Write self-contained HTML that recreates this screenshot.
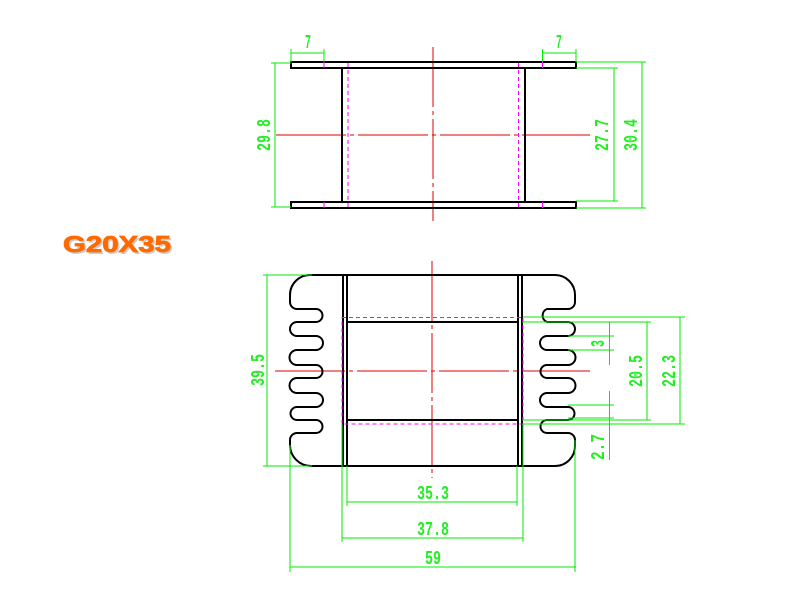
<!DOCTYPE html>
<html><head><meta charset="utf-8"><style>
html,body{margin:0;padding:0;background:#fff;width:800px;height:600px;overflow:hidden}
svg{display:block}
.k{stroke:#000;stroke-width:2;fill:none}
.g{stroke:#00ee00;stroke-width:1;fill:none}
.r{stroke:#e00000;stroke-width:1;fill:none}
.m{stroke:#ff00ff;stroke-width:1;fill:none;stroke-dasharray:4 3}
.t{font-family:"Liberation Mono",monospace;font-size:19px;font-weight:bold;fill:#22ee22}
</style></head><body>
<svg width="800" height="600" viewBox="0 0 800 600" xmlns="http://www.w3.org/2000/svg">
<!-- TOP VIEW -->
<line class="r" x1="433" y1="47" x2="433" y2="221" stroke-dasharray="60 4 4 4"/>
<line class="r" x1="276" y1="135" x2="590" y2="135" stroke-dasharray="70 4 4 4"/>
<rect class="k" x="291" y="62" width="285" height="6"/>
<rect class="k" x="291" y="202" width="285" height="6"/>
<line class="k" x1="342" y1="68" x2="342" y2="202"/>
<line class="k" x1="525" y1="68" x2="525" y2="202"/>
<line class="m" x1="348" y1="63" x2="348" y2="207"/>
<line class="m" x1="518.5" y1="63" x2="518.5" y2="207"/>
<line x1="324" y1="62" x2="324" y2="68" stroke="#ff00ff"/>
<line x1="542.5" y1="62" x2="542.5" y2="68" stroke="#ff00ff"/>
<line x1="324" y1="202" x2="324" y2="208" stroke="#ff00ff"/>
<line x1="542.5" y1="202" x2="542.5" y2="208" stroke="#ff00ff"/>
<!-- dims top -->
<g class="g">
<line x1="291" y1="49" x2="291" y2="62"/><line x1="324" y1="49" x2="324" y2="62"/><line x1="291" y1="53" x2="324" y2="53"/>
<line x1="542.5" y1="49" x2="542.5" y2="62"/><line x1="576" y1="49" x2="576" y2="62"/><line x1="542.5" y1="53" x2="576" y2="53"/>
<line x1="271" y1="63" x2="291" y2="63"/><line x1="271" y1="207" x2="291" y2="207"/><line x1="275" y1="63" x2="275" y2="207"/>
<line x1="576" y1="68" x2="618" y2="68"/><line x1="576" y1="201" x2="618" y2="201"/><line x1="614" y1="68" x2="614" y2="201"/>
<line x1="576" y1="62" x2="646" y2="62"/><line x1="576" y1="208" x2="646" y2="208"/><line x1="642" y1="62" x2="642" y2="208"/>
</g>
<text class="t" x="305" y="48" textLength="6" lengthAdjust="spacingAndGlyphs">7</text>
<text class="t" x="556" y="48" textLength="6" lengthAdjust="spacingAndGlyphs">7</text>
<text class="t" transform="translate(270,151) rotate(-90)" textLength="32" lengthAdjust="spacingAndGlyphs">29.8</text>
<text class="t" transform="translate(608,151) rotate(-90)" textLength="32" lengthAdjust="spacingAndGlyphs">27.7</text>
<text class="t" transform="translate(637,151) rotate(-90)" textLength="32" lengthAdjust="spacingAndGlyphs">30.4</text>
<!-- TITLE -->
<text x="65" y="254" font-family="Liberation Sans,sans-serif" font-weight="bold" font-size="23" fill="#999" opacity="0.5" textLength="108" lengthAdjust="spacingAndGlyphs">G20X35</text>
<text x="63" y="252" font-family="Liberation Sans,sans-serif" font-weight="bold" font-size="23" fill="#ff6a00" stroke="#ff6a00" stroke-width="0.8" textLength="108" lengthAdjust="spacingAndGlyphs">G20X35</text>
<!-- BOTTOM VIEW -->
<line class="r" x1="432" y1="261" x2="432" y2="478" stroke-dasharray="60 4 4 4"/>
<line class="r" x1="275" y1="371" x2="590" y2="371" stroke-dasharray="70 4 4 4"/>
<path class="k" d="M311 275 H555 A20 20 0 0 1 575 295 V302 A7 7 0 0 1 568 309 H547 A7 7 0 0 0 547 322 H568 A7 7 0 0 1 568 336 H547 A7 7 0 0 0 547 350 H568 A7.5 7.5 0 0 1 568 365 H547 A6.5 6.5 0 0 0 547 378 H568 A7.5 7.5 0 0 1 568 393 H547 A7 7 0 0 0 547 407 H568 A6.5 6.5 0 0 1 568 420 H547 A6.5 6.5 0 0 0 547 433 H568 A7 7 0 0 1 575 440 V445 A20 20 0 0 1 555 466 H311 A21 21 0 0 1 290 445 V440 A7 7 0 0 1 297 433 H316 A6.5 6.5 0 0 0 316 420 H297 A6.5 6.5 0 0 1 297 407 H316 A7 7 0 0 0 316 393 H297 A7.5 7.5 0 0 1 297 378 H316 A6.5 6.5 0 0 0 316 365 H297 A7.5 7.5 0 0 1 297 350 H316 A7 7 0 0 0 316 336 H297 A7 7 0 0 1 297 322 H316 A6.5 6.5 0 0 0 316 309 H297 A7 7 0 0 1 290 302 V295 A20 20 0 0 1 311 275 Z"/>
<line class="k" x1="343" y1="275" x2="343" y2="466"/>
<line class="k" x1="347" y1="275" x2="347" y2="466"/>
<line class="k" x1="518" y1="275" x2="518" y2="466"/>
<line class="k" x1="522" y1="275" x2="522" y2="466"/>
<line class="k" x1="347" y1="322" x2="518" y2="322"/>
<line class="k" x1="347" y1="420" x2="518" y2="420"/>
<rect class="m" x="342" y="317.5" width="181" height="106.5"/>
<!-- dims bottom -->
<g class="g">
<line x1="263" y1="275" x2="312" y2="275"/><line x1="263" y1="466" x2="312" y2="466"/><line x1="267" y1="275" x2="267" y2="466"/>
<line x1="568" y1="336" x2="614" y2="336"/><line x1="568" y1="350" x2="614" y2="350"/>
<line x1="568" y1="405" x2="614" y2="405"/><line x1="568" y1="418" x2="614" y2="418"/>
<line x1="609.5" y1="322" x2="609.5" y2="365"/><line x1="609.5" y1="391" x2="609.5" y2="460"/>
<line x1="522" y1="322" x2="651" y2="322"/><line x1="522" y1="420" x2="651" y2="420"/><line x1="647" y1="322" x2="647" y2="420"/>
<line x1="523" y1="317" x2="685" y2="317"/><line x1="523" y1="424" x2="685" y2="424"/><line x1="680" y1="317" x2="680" y2="424"/>
<line x1="575" y1="440" x2="575" y2="572"/><line x1="290" y1="445" x2="290" y2="572"/>
<line x1="342" y1="424" x2="342" y2="542"/><line x1="523" y1="424" x2="523" y2="542"/>
<line x1="347" y1="466" x2="347" y2="506"/><line x1="517" y1="466" x2="517" y2="506"/>
<line x1="347" y1="502" x2="517" y2="502"/>
<line x1="342" y1="538" x2="523" y2="538"/>
<line x1="290" y1="567" x2="576" y2="567"/>
</g>
<text class="t" transform="translate(264,386) rotate(-90)" textLength="32" lengthAdjust="spacingAndGlyphs">39.5</text>
<text class="t" transform="translate(604,347) rotate(-90)" textLength="7" lengthAdjust="spacingAndGlyphs">3</text>
<text class="t" transform="translate(642,387) rotate(-90)" textLength="32" lengthAdjust="spacingAndGlyphs">20.5</text>
<text class="t" transform="translate(675,387) rotate(-90)" textLength="32" lengthAdjust="spacingAndGlyphs">22.3</text>
<text class="t" transform="translate(604,460) rotate(-90)" textLength="26" lengthAdjust="spacingAndGlyphs">2.7</text>
<text class="t" x="417" y="499" textLength="32" lengthAdjust="spacingAndGlyphs">35.3</text>
<text class="t" x="417" y="535" textLength="32" lengthAdjust="spacingAndGlyphs">37.8</text>
<text class="t" x="425" y="564" textLength="16" lengthAdjust="spacingAndGlyphs">59</text>
</svg>
</body></html>
